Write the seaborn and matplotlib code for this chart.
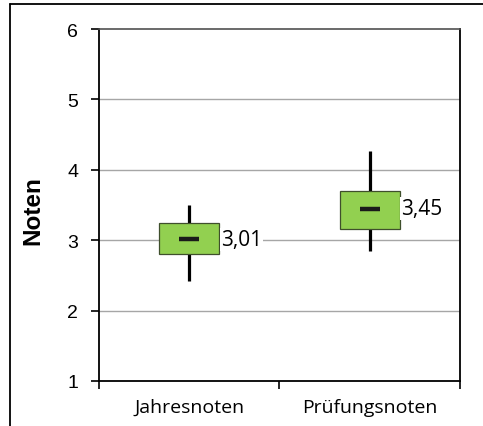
import matplotlib
matplotlib.use("Agg")
import matplotlib.pyplot as plt
from matplotlib.lines import Line2D
import seaborn as sns
import pandas as pd

# Data: five-number summaries (whisker low, Q1, median, Q3, whisker high)
categories = ["Jahresnoten", "Prüfungsnoten"]
whisker_low = [2.42, 2.85]
q1 = [2.80, 3.16]
medians = [3.01, 3.45]
q3 = [3.24, 3.70]
whisker_high = [3.50, 4.27]
median_labels = ["3,01", "3,45"]
y_ticks = [1, 2, 3, 4, 5, 6]

rows = []
for i, c in enumerate(categories):
    for v in (whisker_low[i], q1[i], medians[i], q3[i], whisker_high[i]):
        rows.append({"Kategorie": c, "Note": v})
df = pd.DataFrame(rows)
med_df = pd.DataFrame({"Kategorie": categories, "Note": medians})

sns.set_style("white")
plt.rcParams["font.family"] = ["Liberation Sans", "DejaVu Sans"]
plt.rcParams["text.color"] = "black"
plt.rcParams["axes.labelcolor"] = "black"
plt.rcParams["xtick.color"] = "black"
plt.rcParams["ytick.color"] = "black"

fig = plt.figure(figsize=(4.83, 4.27), dpi=100)
ax = fig.add_axes([0.205, 0.1054, 0.747, 0.8243])

ax.set_ylim(1, 6)
ax.set_yticks(y_ticks)
for y in y_ticks[1:-1]:
    ax.axhline(y, color="#a6a6a6", linewidth=1.0, zorder=0)

sns.boxplot(data=df, x="Kategorie", y="Note", order=categories, whis=(0, 100),
            width=1/3, color="#92d050", saturation=1, showcaps=False,
            boxprops=dict(edgecolor="#3f4f2c", linewidth=0.9, zorder=2),
            whiskerprops=dict(color="black", linewidth=2.3, zorder=1),
            medianprops=dict(visible=False), ax=ax)

sns.stripplot(data=med_df, x="Kategorie", y="Note", order=categories,
              jitter=False, marker="_", size=15, linewidth=3.2,
              color="#1a1a1a", ax=ax, zorder=3)

ax.set_xlim(-0.5, 1.5)
ax.set_ylim(1, 6)

for i, lab in enumerate(median_labels):
    ax.annotate(lab, xy=(i + 1/6, medians[i]), xytext=(1, 0),
                textcoords="offset points", ha="left", va="center",
                fontsize=15, color="black", family=["Open Sans", "DejaVu Sans"],
                bbox=dict(boxstyle="square,pad=0.05", fc="white", ec="none"),
                zorder=4)

ax.set_xlabel("")
ax.set_ylabel("Noten", fontsize=17.5, fontweight="bold", color="black")
ax.yaxis.set_label_coords(-0.152, 0.486)

ax.set_xticks([-0.5, 0.5, 1.5], minor=False)
ax.set_xticklabels(["", "", ""])
ax.set_xticks([0, 1], minor=True)
ax.set_xticklabels(categories, minor=True, fontsize=14,
                   family=["Open Sans", "DejaVu Sans"])
ax.tick_params(axis="x", which="major", direction="out", length=6, width=1.2,
               color="black", bottom=True)
ax.tick_params(axis="x", which="minor", length=0, pad=12, labelcolor="black")
ax.tick_params(axis="y", direction="out", length=6, width=1.2, color="black",
               labelsize=14, pad=9, left=True, labelcolor="black")

for side in ["left", "bottom", "right"]:
    ax.spines[side].set_visible(True)
    ax.spines[side].set_color("black")
    ax.spines[side].set_linewidth(1.3)
ax.spines["top"].set_visible(True)
ax.spines["top"].set_color("#505050")
ax.spines["top"].set_linewidth(1.2)

# outer chart frame (left and top edges)
fig.add_artist(Line2D([10/483, 10/483], [0, 1 - 5/427], color="black", linewidth=1.3))
fig.add_artist(Line2D([10/483, 1], [1 - 5/427, 1 - 5/427], color="black", linewidth=1.3))

fig.savefig("out.png", dpi=100)
